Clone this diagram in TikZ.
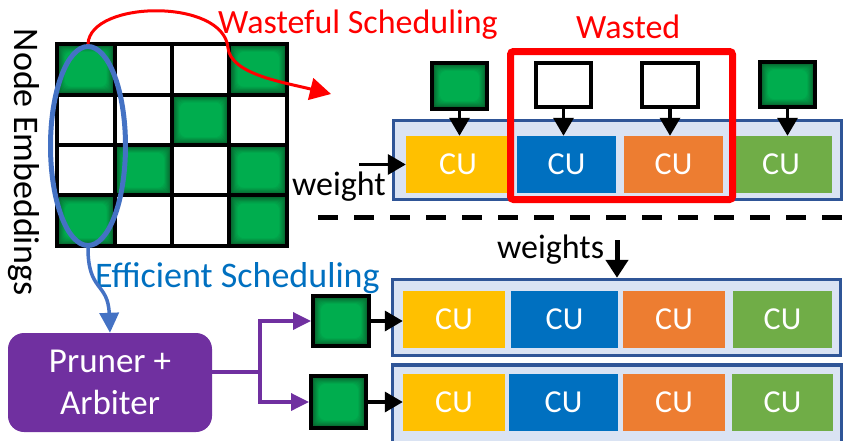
\documentclass[tikz,border=0pt]{standalone}
\usepackage{fontspec}
\setmainfont{Carlito}
\usetikzlibrary{arrows.meta,shapes.geometric}

\definecolor{gbright}{HTML}{00AD4E}
\definecolor{gdeep}{HTML}{0B4F26}
\definecolor{cuyellow}{HTML}{FFC000}
\definecolor{cublue}{HTML}{0070C0}
\definecolor{cuorange}{HTML}{ED7D31}
\definecolor{cugreen}{HTML}{70AD47}
\definecolor{panelfill}{HTML}{DAE3F3}
\definecolor{panelline}{HTML}{2F5597}
\definecolor{selblue}{HTML}{4472C4}
\definecolor{txtblue}{HTML}{0070C0}
\definecolor{purp}{HTML}{7030A0}

\newcommand\lblfont{\fontsize{34}{40}\selectfont}
\newcommand\biglblfont{\fontsize{36}{40}\selectfont}
\newcommand\cufont{\fontsize{32}{36}\selectfont}

\begin{document}
\begin{tikzpicture}[x=1pt,y=-1pt,
  % green fill with a soft dark rim, built from nested insets
  glow/.style={path picture={
    \foreach \i in {0,...,10}{
      \pgfmathsetmacro\pct{100*(\i/10)^0.8}
      \fill[color=gbright!\pct!gdeep, rounded corners=0.6*\i pt]
        ([shift={(0.8*\i pt,-0.8*\i pt)}]path picture bounding box.north west)
        rectangle ([shift={(-0.8*\i pt,0.8*\i pt)}]path picture bounding box.south east);
    }}},
  cell/.style={glow, inner sep=0pt, minimum width=57.5pt, minimum height=50.5pt},
  cubox/.style={fill=#1, text=white, font=\cufont, inner sep=0pt, minimum height=57pt},
  panel/.style={draw=panelline, fill=panelfill, line width=3.5pt, inner sep=0pt},
  gsq/.style={draw=black, line width=4pt, glow, inner sep=0pt},
  wsq/.style={draw=black, line width=4pt, fill=white, inner sep=0pt},
  feed/.style={line width=3.5pt, -{Triangle[length=18pt,width=20pt]}},
  lbl/.style={font=\lblfont, inner sep=0pt}
]
\clip (0,0) rectangle (863,440);

% embedding matrix: shaded cells, then the grid lines
\foreach \c/\r in {0/0,3/0,2/1,1/2,3/2,0/3,3/3}{
  \node[cell] (m\c\r) at ({57+57.5*(\c+0.5)},{44+50.5*(\r+0.5)}) {};
}
\foreach \x in {57,115,172,229,287} \draw[line width=4pt] (\x,42) -- (\x,248);
\foreach \y in {44,95,145,195,246} \draw[line width=4pt] (55,\y) -- (289,\y);

\node[ellipse, draw=selblue, line width=5pt, minimum width=75pt, minimum height=199pt, inner sep=0pt] (sel) at (88,146) {};

\node[lbl, font=\biglblfont, rotate=-90] (emb) at (24,162) {Node Embeddings};

% wasteful scheduling (top)
\node[lbl, text=red, anchor=base west] (wtitle) at (218,33) {Wasteful Scheduling};
\coordinate (wtip) at (331,94);
\draw[red, line width=3pt, -{Triangle[length=21pt,width=22pt]}]
  (sel.north) .. controls (90,0) and (224,-2) .. (228,48)
  .. controls (231,74) and (282,82) .. (wtip);

\node[panel, minimum width=448pt, minimum height=79pt] (tpanel) at (617.5,160) {};
\node[cubox=cuyellow, minimum width=104pt] (ta) at (458,164.5) {CU};
\node[cubox=cublue, minimum width=99pt] (tb) at (566.5,164.5) {CU};
\node[cubox=cuorange, minimum width=99pt] (tc) at (673.5,164.5) {CU};
\node[cubox=cugreen, minimum width=102pt] (td) at (781,164.5) {CU};

\node[gsq, minimum width=55pt, minimum height=46pt] (qa) at (459.5,86) {};
\node[wsq, minimum width=55pt, minimum height=44pt] (qb) at (563.5,84.5) {};
\node[wsq, minimum width=56pt, minimum height=44pt] (qc) at (670,84.5) {};
\node[gsq, minimum width=55pt, minimum height=45pt] (qd) at (787.5,84.5) {};
\foreach \q/\t in {qa/ta,qb/tb,qc/tc,qd/td}
  \draw[feed] (\q.south) -- (\q.south |- \t.north);

\node[draw=red, line width=7pt, rounded corners=3pt, minimum width=222pt, minimum height=148pt, inner sep=0pt] (waste) at (621.5,125.5) {};
\node[lbl, text=red, anchor=base west] (wlbl) at (576,38) {Wasted};

\node[lbl, anchor=base west] (wt) at (292,195) {weight};
\coordinate (wstart) at (359,164.5);
\draw[feed] (wstart) -- (ta.west);

% divider
\coordinate (dl) at (318,217);
\coordinate (dr) at (850,217);
\draw[line width=5pt, dash pattern=on 20pt off 16pt] (dl) -- (dr);

% efficient scheduling (bottom)
\node[lbl, font=\biglblfont, text=txtblue, anchor=base west] (etitle) at (95,287) {Efficient Scheduling};

\node[fill=purp, rounded corners=16pt, minimum width=204pt, minimum height=99pt, inner sep=0pt] (pr) at (110,382.5) {};
\node[font=\fontsize{35}{42}\selectfont, text=white, align=center, inner sep=0pt] (prtxt) at (110,382) {Pruner +\\Arbiter};

\draw[selblue, line width=3.5pt, -{Triangle[length=20pt,width=19pt]}]
  (sel.south) .. controls (88,292) and (108,282) .. (pr.north);

\node[panel, minimum width=448pt, minimum height=76pt] (bp1) at (616.5,317.5) {};
\node[panel, minimum width=449pt, minimum height=90pt] (bp2) at (617,410) {};

\node[cubox=cuyellow, minimum width=102pt] (ra) at (454,319.5) {CU};
\node[cubox=cublue, minimum width=107pt] (rb) at (564.5,319.5) {CU};
\node[cubox=cuorange, minimum width=102pt] (rc) at (674,319.5) {CU};
\node[cubox=cugreen, minimum width=99pt] (rd) at (782.5,319.5) {CU};

\node[cubox=cuyellow, minimum width=102pt] (sa) at (454,402.5) {CU};
\node[cubox=cublue, minimum width=109pt] (sb) at (563.5,402.5) {CU};
\node[cubox=cuorange, minimum width=102pt] (sc) at (674,402.5) {CU};
\node[cubox=cugreen, minimum width=101pt] (sd) at (782.5,402.5) {CU};

\node[gsq, minimum width=56pt, minimum height=50pt] (pa) at (341,321) {};
\node[gsq, minimum width=55pt, minimum height=52pt] (pb) at (338.5,402) {};
\draw[feed] (pa.east) -- (pa.east -| ra.west);
\draw[feed] (pb.east) -- (pb.east -| sa.west);

\node[lbl, anchor=base west] (wts) at (497,258) {weights};
\coordinate (wsstart) at (617,240);
\draw[line width=5pt, -{Triangle[length=18pt,width=22pt]}] (wsstart) -- (wsstart |- bp1.north);

\coordinate (split) at (260,372);
\draw[purp, line width=3.5pt] (pr.east |- split) -- (split);
\draw[purp, line width=3.5pt, -{Triangle[length=18pt,width=17pt]}] (split) |- (pa.west);
\draw[purp, line width=3.5pt, -{Triangle[length=18pt,width=17pt]}] (split) |- (pb.west);
\end{tikzpicture}
\end{document}
